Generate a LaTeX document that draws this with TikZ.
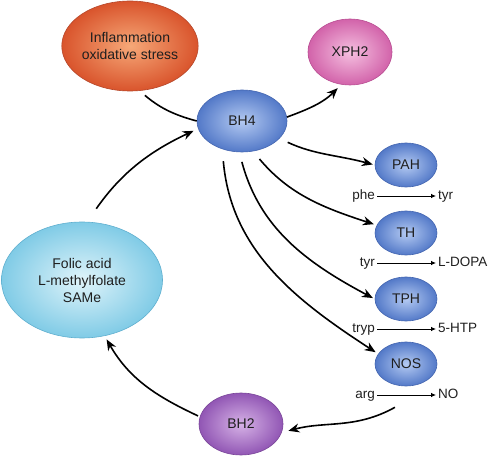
\documentclass[tikz,border=0pt]{standalone}
\usepackage{fontspec}
\setmainfont{Liberation Sans}
\usetikzlibrary{shapes.geometric,arrows.meta,positioning}
\definecolor{inflin}{HTML}{F6A878}
\definecolor{inflout}{HTML}{D9542C}
\definecolor{infldraw}{HTML}{B5472A}
\definecolor{bluein}{HTML}{B4CAF2}
\definecolor{blueout}{HTML}{5379C8}
\definecolor{bluedraw}{HTML}{4466B0}
\definecolor{pinkin}{HTML}{F5C0E0}
\definecolor{pinkout}{HTML}{D263AA}
\definecolor{pinkdraw}{HTML}{B84E92}
\definecolor{purpin}{HTML}{D6B2E6}
\definecolor{purpout}{HTML}{9156B4}
\definecolor{purpdraw}{HTML}{7A4699}
\definecolor{cyanin}{HTML}{E0F4FA}
\definecolor{cyanout}{HTML}{80CBE6}
\definecolor{cyandraw}{HTML}{5FAFCF}
\tikzstyle{blob}=[ellipse, draw, inner sep=0pt, line width=0.6pt, align=center, text=black!88, font=\fontsize{14}{17}\selectfont]
\tikzstyle{enzyme}=[blob, minimum width=62pt, minimum height=44pt, draw=bluedraw, inner color=bluein, outer color=blueout]
\tikzstyle{chem}=[inner sep=2pt, text=black!88, font=\fontsize{13.5}{16}\selectfont, text height=1.6ex, text depth=.3ex]
\tikzstyle{link}=[line width=1.6pt, -{Stealth[length=11pt,width=9pt]}]
\tikzstyle{react}=[line width=0.8pt, -{Latex[length=5pt,width=4.5pt]}]
\newcommand{\enzyme}{\node[enzyme]}

\begin{document}
\begin{tikzpicture}[x=1pt,y=1pt]
            \useasboundingbox (0,0) rectangle (493,461);
            \node[blob, minimum width=120pt, minimum height=90pt, draw=infldraw, inner color=inflin, outer color=inflout] (infl) at (130,415) {Inflammation\\oxidative stress};
            \node[blob, minimum width=90pt, minimum height=62pt, draw=bluedraw, inner color=bluein, outer color=blueout] (bhfour) at (242,340) {BH4};
            \node[blob, minimum width=84pt, minimum height=66pt, draw=pinkdraw, inner color=pinkin, outer color=pinkout] (xph) at (350,409) {XPH2};
            \node[blob, minimum width=161pt, minimum height=116pt, draw=cyandraw, inner color=cyanin, outer color=cyanout] (folic) at (82,181) {Folic acid\\L-methylfolate\\SAMe};
            \node[blob, minimum width=84pt, minimum height=62pt, draw=purpdraw, inner color=purpin, outer color=purpout] (bhtwo) at (241,37) {BH2};
            \enzyme (pah) at (406,296) {PAH};
            \enzyme (th) at (406,228) {TH};
            \enzyme (tph) at (406,162) {TPH};
            \enzyme (nos) at (406,97) {NOS};
            \node[chem, anchor=east] (phe) at (377,265) {phe};
            \node[chem, anchor=west] (tyrout) at (436,265) {tyr};
            \node[chem, anchor=east] (tyrin) at (377,198) {tyr};
            \node[chem, anchor=west] (ldopa) at (436,198) {L-DOPA};
            \node[chem, anchor=east] (tryp) at (377,132) {tryp};
            \node[chem, anchor=west] (htp) at (436,132) {5-HTP};
            \node[chem, anchor=east] (arg) at (377,66) {arg};
            \node[chem, anchor=west] (no) at (436,66) {NO};
            \coordinate[below left=21pt and 11pt of nos.south] (nosout);
            \path 
                (phe.east) edge[react] (tyrout.west)
                (tyrin.east) edge[react] (ldopa.west)
                (tryp.east) edge[react] (htp.west)
                (arg.east) edge[react] (no.west)
            ;
            \path 
                (infl.-78) edge[link, -, shorten <=7pt, out=-40, in=165] (bhfour.west)
                (folic.85) edge[link, shorten <=16pt, shorten >=5pt, out=55, in=205] (bhfour.190)
                (bhfour.5) edge[link, shorten >=5pt, out=20, in=225] (xph.255)
                (bhfour.-25) edge[link, shorten <=9pt, shorten >=2pt, out=-25, in=165] (pah.west)
                (bhfour.-70) edge[link, shorten <=10pt, shorten >=3pt, out=-50, in=162] (th.165)
                (bhfour.-95) edge[link, shorten <=10pt, shorten >=2pt, out=-75, in=152] (tph.west)
                (bhfour.-125) edge[link, shorten <=12pt, shorten >=3pt, out=-85, in=147] (nos.160)
                (nosout) edge[link, shorten >=7pt, out=209, in=15] (bhtwo.-12)
                (bhtwo.170) edge[link, shorten <=2pt, shorten >=4pt, out=155, in=-60] (folic.-68)
            ;
        \end{tikzpicture}
\end{document}
